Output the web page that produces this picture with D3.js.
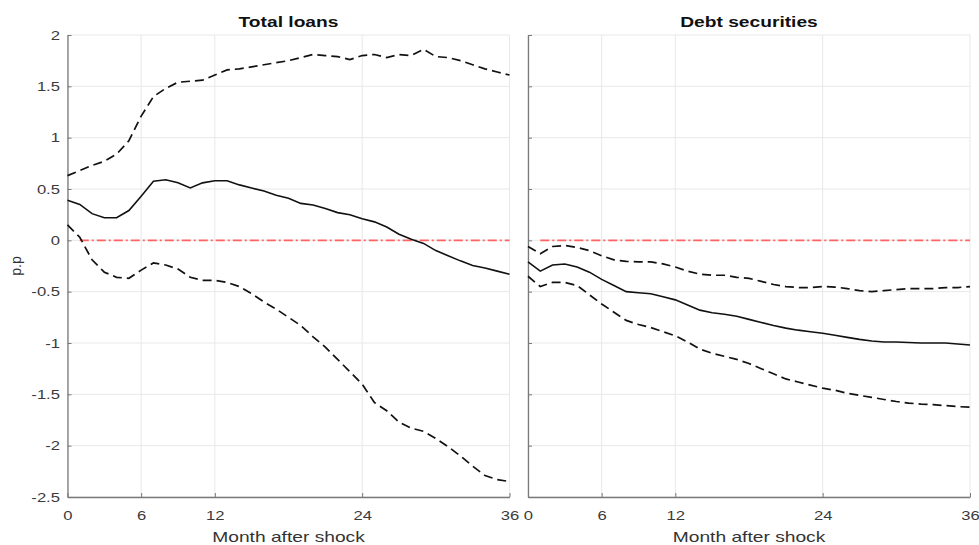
<!DOCTYPE html>
<html>
<head>
<meta charset="utf-8">
<script src="https://cdn.jsdelivr.net/npm/d3@7"></script>
<style>
  body { margin: 0; background: #fff; }
  svg { display: block; font-family: "Liberation Sans", Arial, sans-serif; }
</style>
</head>
<body>
<svg id="chart" width="979" height="545"></svg>
<script>
// Impulse responses, months 0..36 after the shock
const months = d3.range(0, 37);

const loansMedian = [0.39, 0.35, 0.26, 0.22, 0.22, 0.29, 0.43, 0.575, 0.59, 0.56, 0.51, 0.56, 0.58,
  0.58, 0.54, 0.51, 0.48, 0.44, 0.41, 0.36, 0.345, 0.31, 0.27, 0.25, 0.21, 0.18, 0.13, 0.06,
  0.01, -0.03, -0.10, -0.15, -0.20, -0.245, -0.27, -0.30, -0.33];
const loansUpper = [0.63, 0.68, 0.73, 0.77, 0.84, 0.97, 1.21, 1.40, 1.48, 1.54, 1.55, 1.56, 1.61,
  1.66, 1.67, 1.69, 1.71, 1.73, 1.75, 1.78, 1.81, 1.80, 1.79, 1.76, 1.80, 1.81, 1.78, 1.81,
  1.80, 1.86, 1.79, 1.78, 1.75, 1.71, 1.67, 1.64, 1.61];
const loansLower = [0.15, 0.03, -0.19, -0.31, -0.36, -0.37, -0.29, -0.22, -0.24, -0.28, -0.36, -0.39, -0.39,
  -0.41, -0.45, -0.52, -0.60, -0.67, -0.75, -0.83, -0.94, -1.04, -1.16, -1.28, -1.40, -1.58, -1.66,
  -1.77, -1.83, -1.86, -1.93, -2.01, -2.10, -2.20, -2.29, -2.33, -2.35];

const debtMedian = [-0.21, -0.30, -0.24, -0.23, -0.26, -0.31, -0.38, -0.44, -0.50, -0.51, -0.52, -0.55, -0.58,
  -0.63, -0.68, -0.705, -0.72, -0.74, -0.77, -0.80, -0.83, -0.855, -0.875, -0.89, -0.905, -0.925, -0.945,
  -0.965, -0.98, -0.99, -0.99, -0.995, -1.0, -1.0, -1.0, -1.01, -1.02];
const debtUpper = [-0.06, -0.13, -0.06, -0.05, -0.07, -0.10, -0.15, -0.19, -0.205, -0.21, -0.21, -0.23, -0.26,
  -0.30, -0.33, -0.34, -0.34, -0.36, -0.37, -0.40, -0.43, -0.45, -0.46, -0.46, -0.45, -0.455, -0.47,
  -0.49, -0.50, -0.49, -0.48, -0.47, -0.47, -0.47, -0.46, -0.46, -0.45];
const debtLower = [-0.35, -0.45, -0.41, -0.41, -0.44, -0.53, -0.62, -0.70, -0.78, -0.82, -0.85, -0.89, -0.93,
  -0.99, -1.06, -1.10, -1.13, -1.16, -1.20, -1.25, -1.30, -1.35, -1.38, -1.41, -1.44, -1.46, -1.49,
  -1.51, -1.53, -1.55, -1.57, -1.585, -1.595, -1.60, -1.61, -1.62, -1.625];

const xTicks = [0, 6, 12, 24, 36];
const yTicks = [2, 1.5, 1, 0.5, 0, -0.5, -1, -1.5, -2, -2.5];
const yDomain = [-2.5, 2];
const xDomain = [0, 36];
const zeroLine = [1, 36];

const panels = [
  { title: "Total loans", left: 67.5, median: loansMedian, upper: loansUpper, lower: loansLower, yLabels: true },
  { title: "Debt securities", left: 528, median: debtMedian, upper: debtUpper, lower: debtLower, yLabels: false }
];

const svg = d3.select("#chart");
const plotTop = 35, plotBottom = 497, panelW = 442;
const stretch = 1.28; // horizontal widening of all lettering

const y = d3.scaleLinear().domain(yDomain).range([plotBottom, plotTop]);

function wideText(sel, x, yPos, txt, size, weight, fill) {
  return sel.append("text")
    .attr("transform", `translate(${x},${yPos}) scale(${stretch},1)`)
    .attr("text-anchor", "middle").style("font-size", size + "px")
    .style("font-weight", weight).attr("fill", fill).text(txt);
}

panels.forEach(p => {
  const x = d3.scaleLinear().domain(xDomain).range([p.left, p.left + panelW]);
  const g = svg.append("g");

  // grid
  g.selectAll("line.gy").data(yTicks).join("line")
    .attr("x1", x(0)).attr("x2", x(36))
    .attr("y1", d => y(d)).attr("y2", d => y(d))
    .attr("stroke", "#e8e8e8").attr("stroke-width", 1);
  g.selectAll("line.gx").data(xTicks).join("line")
    .attr("x1", d => x(d)).attr("x2", d => x(d))
    .attr("y1", plotTop).attr("y2", plotBottom)
    .attr("stroke", "#e8e8e8").attr("stroke-width", 1);

  // axes
  const yAxis = d3.axisLeft(y).tickValues(yTicks).tickSizeInner(-4).tickSizeOuter(0).tickPadding(7.5)
    .tickFormat(d => p.yLabels ? String(d) : "");
  const ya = g.append("g").attr("transform", `translate(${x(0)},0)`).call(yAxis);
  const xAxis = d3.axisBottom(x).tickValues(xTicks).tickSizeInner(-4).tickSizeOuter(0).tickPadding(13.5)
    .tickFormat(d => String(d));
  const xa = g.append("g").attr("transform", `translate(0,${plotBottom})`).call(xAxis);
  [ya, xa].forEach(a => {
    a.select(".domain").attr("stroke", "#7a7a7a").attr("stroke-width", 1.3);
    a.selectAll(".tick line").attr("stroke", "#7a7a7a");
    a.selectAll(".tick text").attr("fill", "#3a3a3a").style("font-size", "13px")
      .style("font-family", "'Liberation Sans', Arial, sans-serif");
  });
  // widen tick lettering about its anchor point
  ya.selectAll(".tick text").each(function () {
    const t = d3.select(this);
    const tx = +t.attr("x");
    t.attr("x", 0).attr("transform", `translate(${tx},0) scale(${stretch},1)`);
  });
  xa.selectAll(".tick text").each(function () {
    const t = d3.select(this);
    const ty = +t.attr("y");
    t.attr("y", 0).attr("transform", `translate(0,${ty}) scale(${stretch},1)`);
  });

  // zero reference
  g.append("line")
    .attr("x1", x(zeroLine[0])).attr("x2", x(zeroLine[1]))
    .attr("y1", y(0)).attr("y2", y(0))
    .attr("stroke", "#ff6363").attr("stroke-width", 1.6)
    .attr("stroke-dasharray", "9,3,2,3");

  const line = d3.line().x((d, i) => x(months[i])).y(d => y(d));
  [p.upper, p.lower].forEach(s => {
    g.append("path").attr("d", line(s)).attr("fill", "none")
      .attr("stroke", "#111").attr("stroke-width", 1.7).attr("stroke-dasharray", "9,5");
  });
  g.append("path").attr("d", line(p.median)).attr("fill", "none")
    .attr("stroke", "#111").attr("stroke-width", 1.6);

  // titles
  wideText(svg, p.left + panelW / 2, 27, p.title, 15, "bold", "#111");
  wideText(svg, p.left + panelW / 2, 541.5, "Month after shock", 15, "normal", "#333");
});

svg.append("text").attr("transform", `translate(21,${(plotTop + plotBottom) / 2}) rotate(-90)`)
  .attr("text-anchor", "middle").style("font-size", "14px").attr("fill", "#333").text("p.p");
</script>
</body>
</html>
